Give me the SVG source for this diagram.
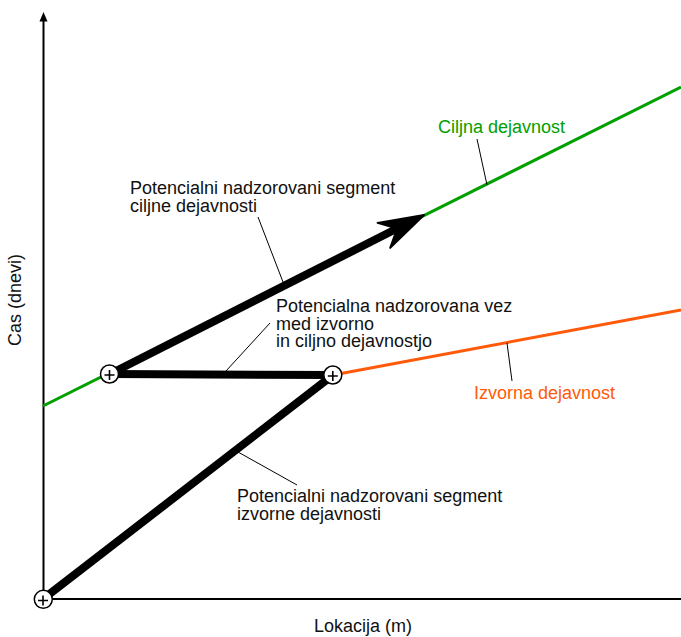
<svg xmlns="http://www.w3.org/2000/svg" width="681" height="637" viewBox="0 0 681 637">
<style>
text{font-family:"Liberation Sans",Arial,sans-serif;font-size:18px;fill:#111}
.g{fill:#00a000}
.o{fill:#ff5a0a}
.axis{stroke:#000;stroke-width:2;fill:none}
.lead{stroke:#000;stroke-width:1;fill:none}
.thick{stroke:#000;stroke-width:8;fill:none}
.node circle{fill:#fff;stroke:#000;stroke-width:1.5}
.node path{stroke:#000;stroke-width:1.6;fill:none}
</style>
<rect width="681" height="637" fill="#fff"/>
<g id="axes">
<line class="axis" x1="43.5" y1="600" x2="43.5" y2="20"/>
<polygon points="43.5,12 39.5,21.5 47.5,21.5" fill="#000"/>
<line class="axis" x1="42.5" y1="599" x2="681" y2="599"/>
<text x="363" y="632" text-anchor="middle">Lokacija (m)</text>
<text transform="translate(21,300) rotate(-90)" text-anchor="middle">Cas (dnevi)</text>
</g>
<g id="activities">
<line x1="43" y1="406" x2="681" y2="87" stroke="#00a000" stroke-width="3"/>
<line x1="333" y1="375" x2="681" y2="310" stroke="#ff5a0a" stroke-width="3"/>
</g>
<g id="connectors">
<line class="thick" x1="43" y1="599" x2="333" y2="375"/>
<line class="thick" x1="110" y1="374" x2="333" y2="375"/>
<line class="thick" x1="110" y1="374" x2="400" y2="227"/>
<polygon points="424,215 377.6,222.9 397.2,228.6 390.2,247.9" fill="#000" stroke="#000" stroke-width="2" stroke-linejoin="round"/>
<line class="lead" x1="258" y1="217" x2="283" y2="282"/>
<line class="lead" x1="270" y1="323" x2="226" y2="371"/>
<line class="lead" x1="297" y1="485" x2="238" y2="452"/>
<line class="lead" x1="477" y1="139" x2="487" y2="185"/>
<line class="lead" x1="507" y1="343" x2="512" y2="381"/>
</g>
<g id="node-origin" class="node">
<circle cx="43.3" cy="599.3" r="9"/>
<path d="M38,600.5h10M43,595.5v10"/>
</g>
<g id="node-target" class="node">
<circle cx="109.5" cy="374" r="9"/>
<path d="M104.5,375h10M109.5,370v10"/>
</g>
<g id="node-source" class="node">
<circle cx="332.8" cy="375" r="9"/>
<path d="M327.8,376h10M332.8,371v10"/>
</g>
<g id="label-target-segment">
<text x="130" y="194">Potencialni nadzorovani segment</text>
<text x="130" y="212">ciljne dejavnosti</text>
</g>
<g id="label-link">
<text x="276" y="312">Potencialna nadzorovana vez</text>
<text x="276" y="329.5">med izvorno</text>
<text x="276" y="347">in ciljno dejavnostjo</text>
</g>
<g id="label-source-segment">
<text x="237" y="502">Potencialni nadzorovani segment</text>
<text x="237" y="520">izvorne dejavnosti</text>
</g>
<g id="label-target-activity">
<text class="g" x="438" y="133">Ciljna dejavnost</text>
</g>
<g id="label-source-activity">
<text class="o" x="474" y="399">Izvorna dejavnost</text>
</g>
</svg>
